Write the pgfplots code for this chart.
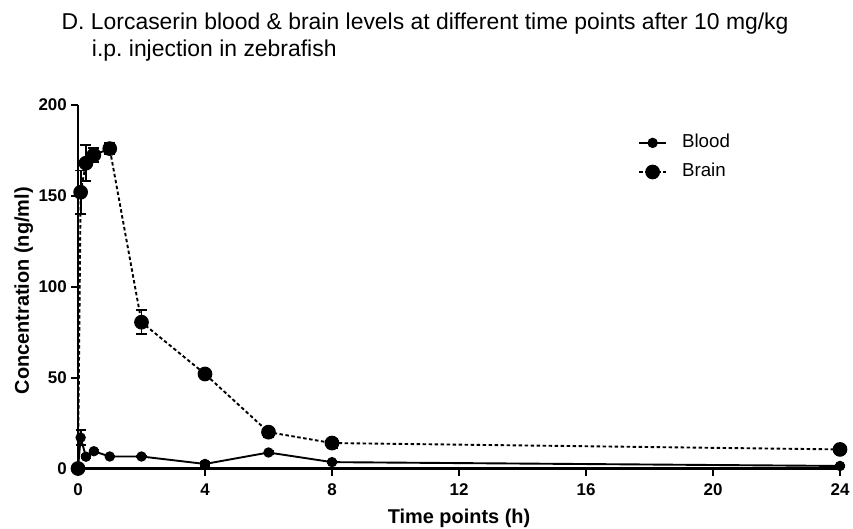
\documentclass[border=0pt]{standalone}
\usepackage{pgfplots}
\pgfplotsset{compat=1.18}
\usepackage{fontspec}
\setmainfont{Liberation Sans}
\frenchspacing

% Mean concentration (ng/ml) and SEM at each sampling time (h)
\pgfplotstableread{
t     c      e
0     0      0
0.083 17     4
0.25  6.5    1
0.5   9.5    1
1     6.6    0.5
2     6.6    0.5
4     2.5    1
6     8.8    1
8     3.5    0.5
24    1.4    0.5
}\blood
\pgfplotstableread{
t     c      e
0     0      0
0.083 152    12
0.25  168    10
0.5   172.5  4
1     176    3
2     80.5   6.5
4     52     1
6     20     2.5
8     14     2.5
24    10.5   1
}\brain

\begin{document}
\begin{tikzpicture}
\useasboundingbox (-78bp,-60.5bp) rectangle (775bp,468.5bp);

\node[anchor=base west, inner sep=0, font=\fontsize{23}{23}\selectfont]
  at (-16.5bp,438.5bp) {D. Lorcaserin blood \& brain levels at different time points after 10 mg/kg};
\node[anchor=base west, inner sep=0, font=\fontsize{23}{23}\selectfont]
  at (13.8bp,411.8bp) {i.p. injection in zebrafish};

\begin{axis}[
  at={(0,0)}, anchor=south west,
  scale only axis, width=762bp, height=363.5bp,
  xmin=0, xmax=24, ymin=0, ymax=200,
  axis lines*=left,
  axis line style={line width=2.2bp, black},
  xtick={0,4,...,24}, ytick={0,50,...,200},
  xtick align=outside, ytick align=outside,
  major tick length=7bp,
  tick style={line width=2.2bp, black, solid},
  /pgf/number format/assume math mode=true,
  ticklabel style={font=\fontsize{17}{17}\selectfont\bfseries, inner sep=0pt},
  xticklabel style={anchor=base, yshift=-19.5bp},
  yticklabel style={anchor=east, xshift=-4bp},
  xlabel={Time points (h)},
  ylabel={Concentration (ng/ml)},
  label style={font=\fontsize{20}{20}\selectfont\bfseries, inner sep=0pt},
  xlabel style={at={([yshift=-54.5bp]axis description cs:0.5,0)}, anchor=base},
  ylabel style={at={([xshift=-49bp]axis description cs:0,0.489)}, anchor=base},
  clip=false,
  legend style={at={([yshift=-3.5bp]axis description cs:0.7349,0.93)}, anchor=north west,
    draw=none, fill=none, inner sep=0pt, row sep=11.6bp,
    font=\fontsize{18.8}{18.8}\selectfont,
    nodes={inner sep=0pt, text height=13.5bp, text depth=4bp}},
  legend cell align=left,
  legend image code/.code={
    \draw[#1, mark repeat=2, mark phase=2]
      plot coordinates {(0bp,0bp) (13.5bp,0bp) (27bp,0bp)};
    \path (42bp,0bp);},
]

\addplot[black, line width=1.9bp, mark=*, mark size=4.2bp,
  mark options={solid, fill=black},
  error bars/.cd, y dir=both, y explicit,
  error bar style={line width=1.8bp, solid},
  error mark options={rotate=90, mark size=5bp, line width=1.8bp}]
  table[x=t, y=c, y error=e] {\blood};
\addlegendentry{Blood}

\addplot[black, line width=1.9bp, dash pattern=on 3.5bp off 2.5bp,
  mark=*, mark size=6.4bp, mark options={solid, fill=black},
  error bars/.cd, y dir=both, y explicit,
  error bar style={line width=1.8bp, solid},
  error mark options={rotate=90, mark size=5.5bp, line width=1.8bp}]
  table[x=t, y=c, y error=e] {\brain};
\addlegendentry{Brain}

\end{axis}
\end{tikzpicture}
\end{document}
